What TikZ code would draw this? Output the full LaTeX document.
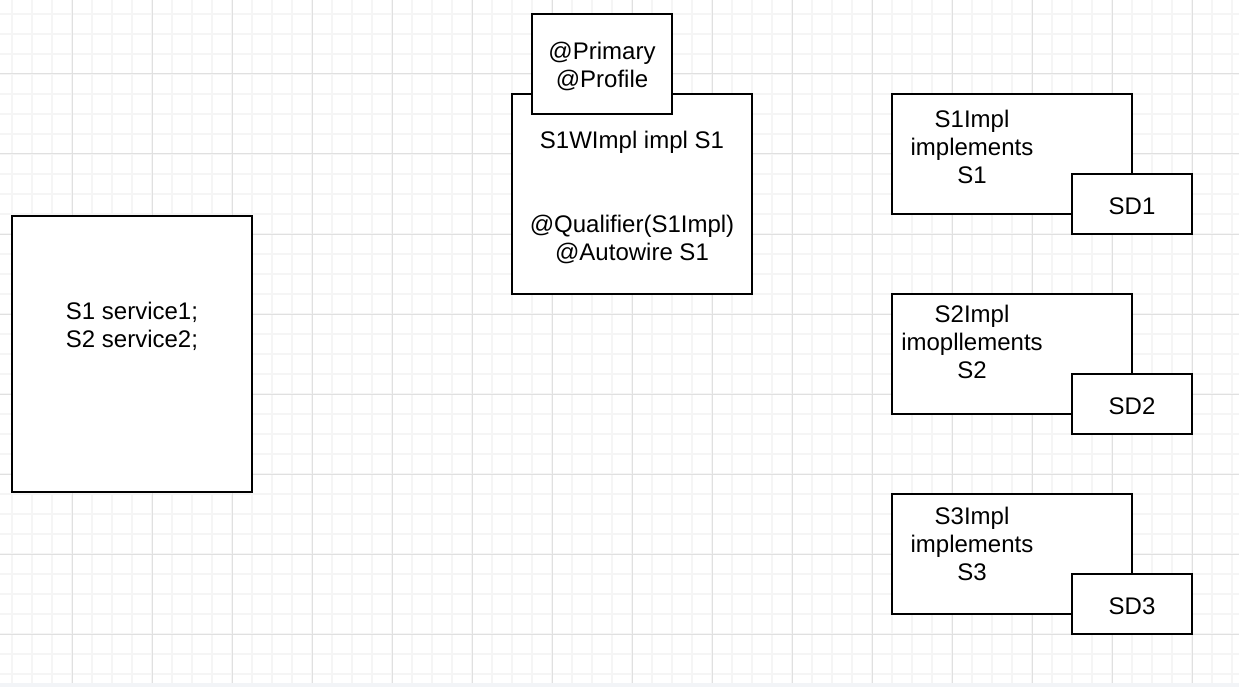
\documentclass[tikz,border=0pt]{standalone}
\usepackage{fontspec}
\setmainfont{Liberation Sans}
\definecolor{minorgrid}{HTML}{F5F5F5}
\definecolor{majorgrid}{HTML}{E0E0E0}
\definecolor{pageedge}{HTML}{F2F4F7}

\begin{document}
\begin{tikzpicture}[x=1pt,y=-1pt,
  box/.style={draw,line width=2pt,fill=white,inner sep=0pt},
  txt/.style={align=center,font=\fontsize{24}{28}\selectfont}]
% background grid
\fill[white] (0,0) rectangle (1239,687);
\fill[pageedge] (0,683) rectangle (1239,687);
\useasboundingbox (0,0) rectangle (1239,687);
\foreach \gx in {12,32,...,1232} \draw[minorgrid,line width=1.5pt] (\gx,0)--(\gx,683);
\foreach \gy in {14,34,...,674} \draw[minorgrid,line width=1.5pt] (0,\gy)--(1239,\gy);
\foreach \gx in {72,152,...,1192} \draw[majorgrid,line width=1pt] (\gx,0)--(\gx,683);
\foreach \gy in {74,154,...,634} \draw[majorgrid,line width=1pt] (0,\gy)--(1239,\gy);

% client class
\node[box,minimum width=240,minimum height=276] (client) at (132,354) {};
\node[txt] (clienttxt) at (132,326) {S1 service1;\\S2 service2;};

% wrapper impl with annotations
\node[box,minimum width=240,minimum height=200] (wimpl) at (632,194) {};
\node[txt] (wimpltxt) at (632,197)
  {S1WImpl impl S1\\[56pt]@Qualifier(S1Impl)\\@Autowire S1};
\node[box,minimum width=140,minimum height=100] (annot) at (602,64) {};
\node[txt] (annottxt) at (602,66) {@Primary\\@Profile};

% implementations
\node[box,minimum width=240,minimum height=120] (impl1) at (1012,154) {};
\node[txt] (impl1txt) at (972,147) {S1Impl\\implements\\S1};
\node[box,minimum width=120,minimum height=60] (sd1) at (1132,204) {};
\node[txt] (sd1txt) at (1132,206) {SD1};

\node[box,minimum width=240,minimum height=120] (impl2) at (1012,354) {};
\node[txt] (impl2txt) at (972,342) {S2Impl\\imopllements\\S2};
\node[box,minimum width=120,minimum height=60] (sd2) at (1132,404) {};
\node[txt] (sd2txt) at (1132,406) {SD2};

\node[box,minimum width=240,minimum height=120] (impl3) at (1012,554) {};
\node[txt] (impl3txt) at (972,544) {S3Impl\\implements\\S3};
\node[box,minimum width=120,minimum height=60] (sd3) at (1132,604) {};
\node[txt] (sd3txt) at (1132,606) {SD3};
\end{tikzpicture}
\end{document}
